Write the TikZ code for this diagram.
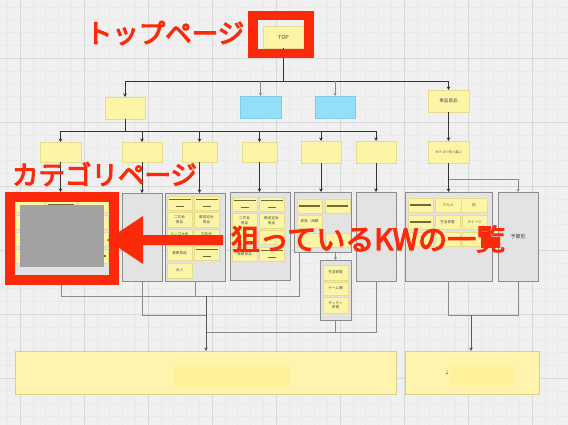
\documentclass[tikz,border=0pt]{standalone}
\usepackage{fontspec}
\newfontfamily\jp{Noto Sans CJK JP}
\newfontfamily\jpheavy[FakeBold=4]{Noto Sans CJK JP}
\usetikzlibrary{arrows.meta}
\definecolor{bgc}{HTML}{F0F0F0}
\definecolor{gmaj}{HTML}{D9D9D9}
\definecolor{gmin}{HTML}{EAEAEA}
\definecolor{stY}{HTML}{FDF5A6}
\definecolor{stB}{HTML}{E6DC8C}
\definecolor{blF}{HTML}{94DEF7}
\definecolor{blB}{HTML}{7CCFEA}
\definecolor{ctF}{HTML}{E3E3E3}
\definecolor{ctB}{HTML}{8C8C8C}
\definecolor{bbF}{HTML}{FEF4AE}
\definecolor{bbB}{HTML}{DCD08C}
\definecolor{bbI}{HTML}{FFF29A}
\definecolor{olv}{HTML}{6E6A35}
\definecolor{redc}{HTML}{FA2A0A}
\definecolor{grc}{HTML}{A2A2A2}
\definecolor{dkl}{HTML}{333333}
\definecolor{thl}{HTML}{8A8A8A}
\newcommand\mkbox[7]{\node[#1, minimum width={#5-#3}, minimum height={#6-#4}] (#2) at ({(#3+#5)/2},{(#4+#6)/2}) {#7};}
\tikzset{
  sticky/.style={fill=stY, draw=stB, line width=0.4pt, inner sep=0pt, outer sep=0pt, align=center,
    text=black!70, font=\jp\fontsize{3.6}{4.4}\selectfont},
  bluebox/.style={fill=blF, draw=blB, line width=0.4pt, inner sep=0pt, outer sep=0pt},
  cont/.style={fill=ctF, draw=ctB, line width=0.8pt, inner sep=0pt, outer sep=0pt,
    text=black!75, font=\jp\fontsize{5}{6}\selectfont},
  bigbox/.style={fill=bbF, draw=bbB, line width=0.6pt, inner sep=0pt, outer sep=0pt},
  oline/.style={draw=olv, line width=1pt},
  lstkA/.style={sticky, path picture={
     \draw[oline] ([xshift=1.5pt,yshift=-3.5pt]path picture bounding box.north west) -- ([xshift=-1.5pt,yshift=-3.5pt]path picture bounding box.north east);
     \draw[oline] ([xshift=-4pt,yshift=3.5pt]path picture bounding box.south) -- ([xshift=4pt,yshift=3.5pt]path picture bounding box.south);}},
  lstkB/.style={sticky, path picture={
     \draw[oline, line width=1.3pt] ([xshift=2pt]path picture bounding box.west) -- ([xshift=-2pt]path picture bounding box.east);}},
  arr/.style={draw=dkl, line width=0.8pt, -{Stealth[length=3.5pt,width=3.5pt]}},
  dline/.style={draw=dkl, line width=0.8pt},
  tarr/.style={draw=thl, line width=0.5pt, -{Stealth[length=3pt,width=3pt]}},
  tline/.style={draw=thl, line width=0.5pt},
  redtxt/.style={text=redc, inner sep=0pt, font=\jpheavy\fontsize{26.5}{26.5}\selectfont},
}
\begin{document}
\begin{tikzpicture}[x=1pt,y=-1pt]
\useasboundingbox (0,0) rectangle (568,425);
\fill[bgc] (0,0) rectangle (568,425);
\foreach \i in {0,...,44} {\draw[gmin, line width=0.3pt] ({7.2+12.8*\i},0) -- ({7.2+12.8*\i},425);}
\foreach \i in {0,...,33} {\draw[gmin, line width=0.3pt] (0,{6.8+12.8*\i}) -- (568,{6.8+12.8*\i});}
\foreach \i in {0,...,8} {\draw[gmaj, line width=0.6pt] ({20+64*\i},0) -- ({20+64*\i},425);}
\foreach \i in {0,...,5} {\draw[gmaj, line width=0.6pt] (0,{58+64*\i}) -- (568,{58+64*\i});}

% level 0-2
\mkbox{sticky, font=\jp\fontsize{5.5}{6}\selectfont}{top}{263}{26}{304}{48}{TOP}
\mkbox{sticky}{b1}{105}{97}{145}{119}{}
\mkbox{bluebox}{blue1}{240}{96}{281}{118}{}
\mkbox{bluebox}{blue2}{315}{96}{355}{118}{}
\mkbox{sticky, font=\jp\fontsize{4.6}{5.5}\selectfont}{tanpin}{428}{90}{469}{112}{単品景品}

% level 3
\mkbox{sticky}{c1}{40}{142}{81}{162}{}
\mkbox{sticky}{c2}{122}{142}{162}{162}{}
\mkbox{sticky}{c3}{182}{142}{217}{162}{}
\mkbox{sticky}{c4}{242}{142}{277}{162}{}
\mkbox{sticky}{c5}{301}{141}{341}{163}{}
\mkbox{sticky}{c6}{356}{141}{396}{163}{}
\mkbox{sticky, font=\jp\fontsize{3.3}{4}\selectfont}{kat}{428}{141}{469}{163}{カテゴリ別×選ぶ}

% containers
\mkbox{cont}{C1}{13}{192}{110}{281}{}
\mkbox{cont}{C2}{122}{193}{162}{281}{}
\mkbox{cont}{C3}{165}{193}{225}{281}{}
\mkbox{cont}{C4}{230}{192}{290}{280}{}
\mkbox{cont}{C5}{294}{192}{351}{252}{}
\mkbox{cont}{C5b}{320}{260}{351}{320}{}
\mkbox{cont}{C6}{356}{192}{396}{281}{}
\mkbox{cont}{C7}{405}{192}{492}{281}{}
\mkbox{cont}{C8}{498}{192}{538}{281}{予算別}

% stickies in C1 (mostly hidden)
\mkbox{sticky}{s11}{15}{198}{44}{212}{}
\mkbox{lstkB}{s12}{46}{198}{76}{212}{}
\mkbox{sticky}{s13}{78}{198}{108}{212}{}
\mkbox{sticky}{s14}{15}{215}{44}{229}{}
\mkbox{sticky}{s15}{78}{215}{108}{229}{}
\mkbox{sticky}{s16}{15}{232}{44}{246}{}
\mkbox{sticky}{s17}{78}{232}{108}{246}{}
\mkbox{sticky}{s18}{15}{249}{44}{263}{}
\mkbox{lstkB}{s19}{78}{249}{108}{263}{}

% stickies in C3
\mkbox{lstkA}{s31}{167}{196}{192}{210}{}
\mkbox{lstkA}{s32}{194}{196}{219}{210}{}
\mkbox{sticky}{s33}{167}{212}{192}{227}{二次会\\景品}
\mkbox{sticky}{s34}{194}{212}{219}{227}{歓送迎会\\景品}
\mkbox{sticky}{s35}{167}{229}{192}{243}{ビンゴ大会\\景品}
\mkbox{sticky}{s36}{194}{229}{219}{243}{忘年会\\景品}
\mkbox{sticky}{s37}{167}{246}{192}{260}{豪華景品}
\mkbox{lstkA}{s38}{194}{246}{219}{260}{}
\mkbox{sticky}{s39}{167}{263}{192}{278}{法人}

% stickies in C4
\mkbox{lstkA}{s41}{232}{197}{257}{211}{}
\mkbox{lstkA}{s42}{259}{197}{284}{211}{}
\mkbox{sticky}{s43}{232}{213}{257}{228}{二次会\\景品}
\mkbox{sticky}{s44}{259}{213}{284}{228}{歓送迎会\\景品}
\mkbox{sticky}{s45}{232}{230}{257}{244}{}
\mkbox{sticky}{s46}{259}{230}{284}{244}{}
\mkbox{sticky}{s47}{232}{247}{257}{261}{豪華景品}
\mkbox{lstkA}{s48}{259}{247}{284}{261}{}

% stickies in C5
\mkbox{lstkB}{s51}{297}{199}{322}{213}{}
\mkbox{lstkB}{s52}{325}{199}{350}{213}{}
\mkbox{sticky}{s53}{297}{215}{322}{228}{家族・両親}
\mkbox{sticky}{s54}{297}{233}{322}{247}{}
\mkbox{sticky}{s55}{325}{233}{350}{247}{}

% stickies in C5b
\mkbox{sticky}{s56}{323}{265}{348}{280}{生活家電}
\mkbox{sticky}{s57}{323}{282}{348}{295}{ゲーム機}
\mkbox{sticky}{s58}{323}{297}{348}{313}{キッチン\\家電}

% stickies in C7
\mkbox{lstkB}{s71}{408}{198}{433}{212}{}
\mkbox{sticky}{s72}{435}{198}{461}{212}{グルメ}
\mkbox{sticky}{s73}{461}{198}{487}{212}{肉}
\mkbox{lstkB}{s74}{408}{215}{433}{229}{}
\mkbox{sticky}{s75}{435}{215}{460}{229}{生活家電}
\mkbox{sticky}{s76}{462}{215}{487}{229}{スイーツ}
\mkbox{sticky}{s77}{408}{232}{433}{246}{}
\mkbox{sticky}{s78}{435}{232}{460}{246}{}
\mkbox{sticky}{s79}{462}{232}{487}{246}{}

% bottom boxes
\mkbox{bigbox}{bb1}{15}{351}{396}{394}{}
\mkbox{bigbox}{bb2}{405}{351}{539}{394}{}
\fill[bbI] (174,365) rectangle (290,387);
\fill[bbI] (450,365) rectangle (516,385);
\node[inner sep=0pt, text=black!70, font=\jp\fontsize{5}{5}\selectfont] (dn) at (447,373) {↓};

% connectors level 0 -> 2
\coordinate (j1) at (283.5,81);
\draw[dline] (top.south) -- (j1);
\draw[arr] (j1) -| (b1.north);
\draw[arr] (j1) -| (tanpin.north);
\draw[tarr] (blue1.north |- j1) -- (blue1.north);
\draw[tarr] (blue2.north |- j1) -- (blue2.north);
% level 2 -> 3
\coordinate (j2) at (125,131);
\draw[dline] (b1.south) -- (j2);
\foreach \n in {c1,c2,c3,c4,c5,c6} {\draw[arr] (j2) -| (\n.north);}
\draw[arr] (tanpin.south) -- (kat.north);
% level 3 -> containers
\draw[arr] (c1.south) -- (c1.south |- C1.north);
\draw[arr] (c2.south) -- (c2.south |- C2.north);
\draw[arr] (c3.south) -- (c3.south |- C3.north);
\draw[arr] (c4.south) -- (c4.south |- C4.north);
\draw[arr] (c5.south) -- (c5.south |- C5.north);
\draw[arr] (c6.south) -- (c6.south |- C6.north);
\draw[arr] (kat.south) -- (kat.south |- C7.north);
\coordinate (j3) at (448.5,179);
\draw[tarr] (j3) -| (C8.north);
\draw[tarr] (C5b.north |- C5.south) -- (C5b.north);
% bottom connectors
\coordinate (m1) at (206,296);
\coordinate (m2) at (206,315);
\coordinate (m3) at (206,332);
\coordinate (m4) at (471,315);
\draw[tline] (C1.south) |- (m1);
\draw[tline] (C2.south) |- (m2);
\draw[tline] (C3.south) |- (m1);
\draw[tline] (m1) -| ([xshift=5pt]C5.south west);
\draw[tline] (C5b.south) |- (m3);
\draw[tline] (C6.south) |- (m3);
\draw[arr, draw=black!65] (m1) -- (m1 |- bb1.north);
\draw[tline] (C7.south) |- (m4);
\draw[tline] (C8.south) |- (m4);
\draw[arr, draw=black!65] (m4) -- (m4 |- bb2.north);

% red overlays
\draw[redc, line width=9.5pt] (253,15.5) rectangle (309,53.5);
\fill[grc] (20,205) rectangle (104,267);
\draw[redc, line width=10pt] (10,197) rectangle (114,280);
\fill[redc] (107,240) -- (143,216) -- (143,235) -- (223,235) -- (223,245) -- (143,245) -- (143,264) -- cycle;
\node[redtxt] (t1) at (165,33) {トップページ};
\node[redtxt] (t2) at (104.5,174) {カテゴリページ};
\node[redtxt, font=\jpheavy\fontsize{29}{29}\selectfont] (t3) at (368,239) {狙っているKWの一覧};
\end{tikzpicture}
\end{document}
